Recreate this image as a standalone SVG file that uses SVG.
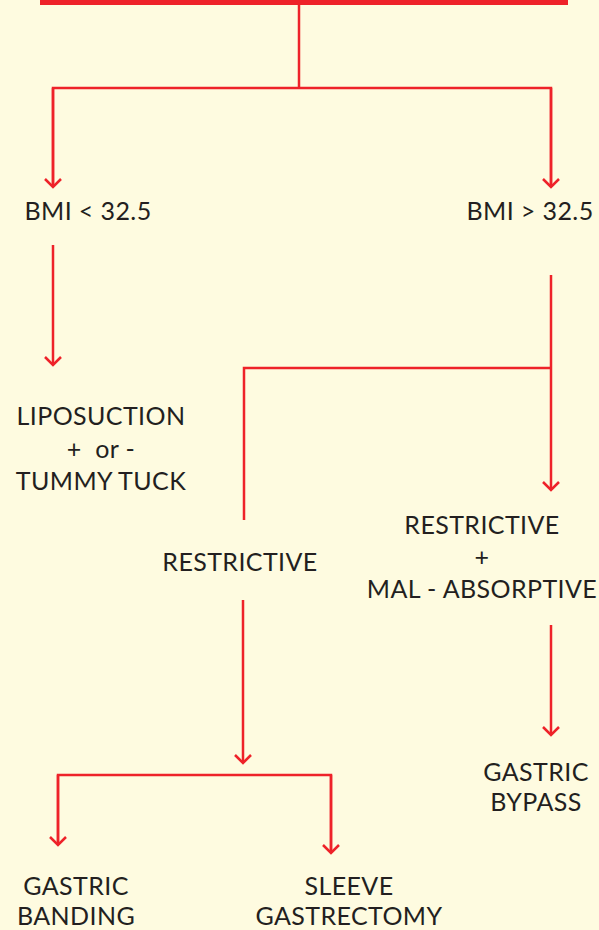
<svg xmlns="http://www.w3.org/2000/svg" width="599" height="930" viewBox="0 0 599 930">
<defs>
<style>
.bg{fill:#FEFBE0}
.ln{fill:none;stroke:#EE2229;stroke-width:2.5}
.t{font-family:Lato,"Open Sans","Liberation Sans",sans-serif;font-size:25px;letter-spacing:0.4px;fill:#231F20;text-anchor:middle}
</style>
<marker id="ah" viewBox="0 0 20 20" refX="10" refY="10" markerWidth="20" markerHeight="20" markerUnits="userSpaceOnUse" orient="auto">
<path d="M2,2 L10,10 L2,18" fill="none" stroke="#EE2229" stroke-width="2.5"/>
</marker>
</defs>
<rect class="bg" x="0" y="0" width="599" height="930"/>
<rect x="40" y="0" width="528" height="5" fill="#EE2229"/>
<g id="connectors">
<path class="ln" d="M299,5 V88"/>
<path class="ln" d="M53,187 V88 H551 V187" />
<path class="ln" d="M53,88 V187" marker-end="url(#ah)"/>
<path class="ln" d="M551,88 V187" marker-end="url(#ah)"/>
<path class="ln" d="M53,245 V365" marker-end="url(#ah)"/>
<path class="ln" d="M551,275 V490" marker-end="url(#ah)"/>
<path class="ln" d="M551,368 H244 V520"/>
<path class="ln" d="M243,600 V763" marker-end="url(#ah)"/>
<path class="ln" d="M58,845 V775 H331 V853"/>
<path class="ln" d="M58,775 V845" marker-end="url(#ah)"/>
<path class="ln" d="M331,775 V853" marker-end="url(#ah)"/>
<path class="ln" d="M551,625 V735" marker-end="url(#ah)"/>
</g>
<g id="bmi-low"><text class="t" x="88" y="220">BMI &lt; 32.5</text></g>
<g id="bmi-high"><text class="t" x="530" y="220">BMI &gt; 32.5</text></g>
<g id="lipo">
<text class="t" x="101" y="425">LIPOSUCTION</text>
<text class="t" x="101" y="458" xml:space="preserve">+  or -</text>
<text class="t" x="101" y="490">TUMMY TUCK</text>
</g>
<g id="restrictive"><text class="t" x="240" y="571">RESTRICTIVE</text></g>
<g id="restrictive-mal">
<text class="t" x="482" y="534">RESTRICTIVE</text>
<text class="t" x="482" y="566">+</text>
<text class="t" x="482" y="598">MAL - ABSORPTIVE</text>
</g>
<g id="bypass">
<text class="t" x="536" y="781">GASTRIC</text>
<text class="t" x="536" y="811">BYPASS</text>
</g>
<g id="banding">
<text class="t" x="76" y="895">GASTRIC</text>
<text class="t" x="76" y="925">BANDING</text>
</g>
<g id="sleeve">
<text class="t" x="349" y="895">SLEEVE</text>
<text class="t" x="349" y="925">GASTRECTOMY</text>
</g>
</svg>
